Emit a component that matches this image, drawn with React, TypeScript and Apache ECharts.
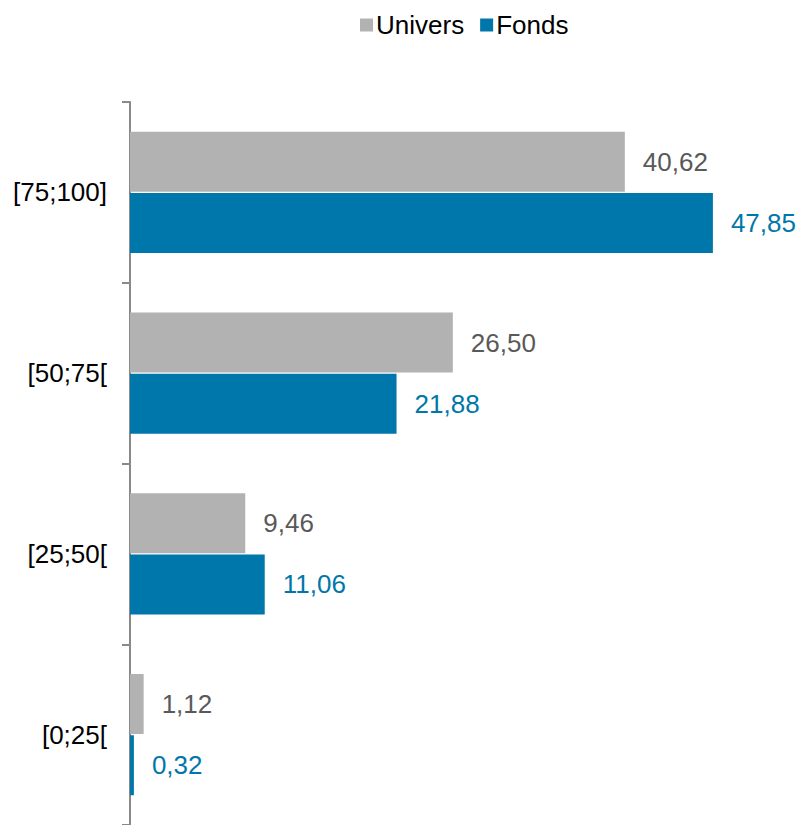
import React, { useEffect, useRef } from "react";
import * as echarts from "echarts";

const categories = ["[0;25[", "[25;50[", "[50;75[", "[75;100]"];
const seriesNames = ["Univers", "Fonds"];
const universValues = [1.12, 9.46, 26.5, 40.62];
const fondsValues = [0.32, 11.06, 21.88, 47.85];

const FONT = "'Liberation Sans', Arial, Helvetica, sans-serif";
const GRAY = "#B2B2B3";
const BLUE = "#0077AA";

const fmt = (v: number) => v.toFixed(2).replace(".", ",");

export default function App() {
  const ref = useRef<HTMLDivElement>(null);
  useEffect(() => {
    if (!ref.current) return;
    const chart = echarts.init(ref.current, undefined, { renderer: "svg" });
    chart.setOption({
      animation: false,
      backgroundColor: "#ffffff",
      textStyle: { fontFamily: FONT },
      legend: {
        top: 7,
        left: 355,
        itemWidth: 13,
        itemHeight: 13,
        itemGap: 16,
        icon: "rect",
        textStyle: { fontFamily: FONT, fontSize: 26, color: "#000000", padding: [0, 0, 0, -2] },
        data: seriesNames,
      },
      grid: { left: 130, top: 102, width: 672, height: 732 },
      xAxis: {
        type: "value",
        min: 0,
        max: 55,
        show: false,
        splitLine: { show: false },
      },
      yAxis: {
        type: "category",
        data: categories,
        axisLine: { show: true, lineStyle: { color: "#898989", width: 2 } },
        axisTick: { show: true, length: 8, lineStyle: { color: "#898989", width: 2 } },
        axisLabel: { fontFamily: FONT, fontSize: 26, color: "#000000", margin: 23 },
      },
      series: [
        {
          name: seriesNames[0],
          type: "bar",
          data: universValues,
          barWidth: 60,
          barGap: "2%",
          itemStyle: { color: GRAY },
          label: {
            show: true,
            position: "right",
            distance: 18,
            fontFamily: FONT,
            fontSize: 26,
            color: "#595959",
            formatter: (p: any) => fmt(p.value),
          },
        },
        {
          name: seriesNames[1],
          type: "bar",
          data: fondsValues,
          barWidth: 60,
          barGap: "2%",
          itemStyle: { color: BLUE },
          label: {
            show: true,
            position: "right",
            distance: 18,
            fontFamily: FONT,
            fontSize: 26,
            color: BLUE,
            formatter: (p: any) => fmt(p.value),
          },
        },
      ],
    });
    return () => chart.dispose();
  }, []);
  return (
    <div
      ref={ref}
      style={{ position: "absolute", left: 0, top: 0, width: 800, height: 825 }}
    />
  );
}
